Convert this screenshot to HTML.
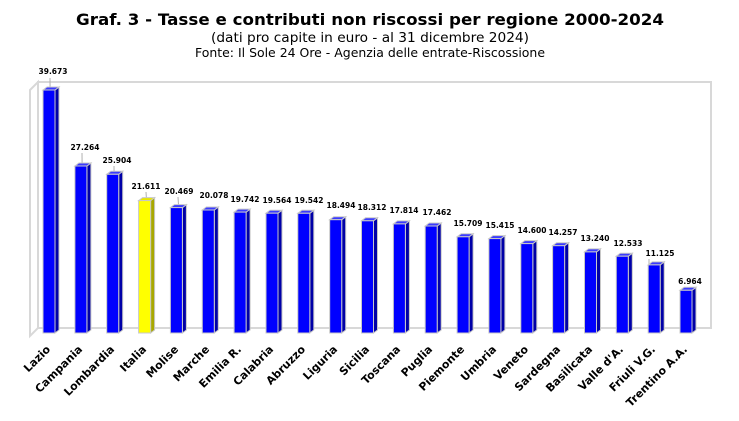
<!DOCTYPE html>
<html><head><meta charset="utf-8"><style>
body{margin:0;background:#fff;width:739px;height:421px;overflow:hidden}
svg{display:block;font-family:"DejaVu Sans","Liberation Sans",sans-serif}
.v{font-size:7.5px;font-weight:bold;text-anchor:middle;fill:#000}
.l{font-size:11px;font-weight:bold;text-anchor:end;fill:#000}
.f{fill:#0000ff;stroke:#c8c8c8;stroke-width:1}
.s{fill:#0000a8;stroke:#c8c8c8;stroke-width:1}
.t{fill:#3a3aff;stroke:#c8c8c8;stroke-width:1}
</style></head><body>
<svg width="739" height="421" viewBox="0 0 739 421">
<text x="370" y="25" text-anchor="middle" font-size="16" font-weight="bold" textLength="588" lengthAdjust="spacingAndGlyphs">Graf. 3 - Tasse e  contributi non riscossi per regione 2000-2024</text>
<text x="370" y="42" text-anchor="middle" font-size="13.5" textLength="318" lengthAdjust="spacingAndGlyphs">(dati pro capite in euro - al 31 dicembre 2024)</text>
<text x="370" y="57" text-anchor="middle" font-size="12" textLength="350" lengthAdjust="spacingAndGlyphs">Fonte: Il Sole 24 Ore - Agenzia delle entrate-Riscossione</text>
<polygon points="38,82 711,82 711,328 38,328" fill="none" stroke="#d8d8d8" stroke-width="2"/>
<polygon points="30,90 38,82 38,328 30,336" fill="none" stroke="#d8d8d8" stroke-width="2"/>
<g stroke="#b0b0b0" stroke-width="1">
<line x1="50" y1="78" x2="51" y2="200"/><line x1="82" y1="153" x2="83" y2="250"/><line x1="114" y1="166" x2="115" y2="255"/><line x1="146" y1="192" x2="151" y2="268"/><line x1="178" y1="197" x2="182" y2="260"/><line x1="649" y1="259" x2="649" y2="300"/>
</g>
<g>
<g><polygon class="s" points="55,90 59,87 59,330 55,333"/><polygon class="t" points="43,90 47,87 59,87 55,90"/><rect class="f" x="43" y="90" width="12" height="243"/><text class="v" x="53" y="74">39.673</text><text class="l" transform="translate(51,350) rotate(-45)">Lazio</text></g>
<g><polygon class="s" points="86.9,166 90.9,163 90.9,330 86.9,333"/><polygon class="t" points="74.9,166 78.9,163 90.9,163 86.9,166"/><rect class="f" x="74.9" y="166" width="12" height="167"/><text class="v" x="85" y="150">27.264</text><text class="l" transform="translate(83,350) rotate(-45)">Campania</text></g>
<g><polygon class="s" points="118.7,174.3 122.7,171.3 122.7,330 118.7,333"/><polygon class="t" points="106.7,174.3 110.7,171.3 122.7,171.3 118.7,174.3"/><rect class="f" x="106.7" y="174.3" width="12" height="158.7"/><text class="v" x="117" y="163">25.904</text><text class="l" transform="translate(115,350) rotate(-45)">Lombardia</text></g>
<g><polygon points="150.6,200.6 154.6,197.6 154.6,330 150.6,333" fill="#a8a800" stroke="#c8c8c8"/><polygon points="138.6,200.6 142.6,197.6 154.6,197.6 150.6,200.6" fill="#e8e800" stroke="#c8c8c8"/><rect x="138.6" y="200.6" width="12" height="132.4" fill="#ffff00" stroke="#c8c8c8"/><text class="v" x="146" y="189">21.611</text><text class="l" transform="translate(147,350) rotate(-45)">Italia</text></g>
<g><polygon class="s" points="182.4,207.6 186.4,204.6 186.4,330 182.4,333"/><polygon class="t" points="170.4,207.6 174.4,204.6 186.4,204.6 182.4,207.6"/><rect class="f" x="170.4" y="207.6" width="12" height="125.4"/><text class="v" x="179" y="194">20.469</text><text class="l" transform="translate(179,350) rotate(-45)">Molise</text></g>
<g><polygon class="s" points="214.3,210 218.3,207 218.3,330 214.3,333"/><polygon class="t" points="202.3,210 206.3,207 218.3,207 214.3,210"/><rect class="f" x="202.3" y="210" width="12" height="123"/><text class="v" x="214" y="198">20.078</text><text class="l" transform="translate(210,350) rotate(-45)">Marche</text></g>
<g><polygon class="s" points="246.1,212.1 250.1,209.1 250.1,330 246.1,333"/><polygon class="t" points="234.1,212.1 238.1,209.1 250.1,209.1 246.1,212.1"/><rect class="f" x="234.1" y="212.1" width="12" height="120.9"/><text class="v" x="245" y="202">19.742</text><text class="l" transform="translate(242,350) rotate(-45)">Emilia R.</text></g>
<g><polygon class="s" points="278,213.2 282,210.2 282,330 278,333"/><polygon class="t" points="266,213.2 270,210.2 282,210.2 278,213.2"/><rect class="f" x="266" y="213.2" width="12" height="119.8"/><text class="v" x="277" y="203">19.564</text><text class="l" transform="translate(274,350) rotate(-45)">Calabria</text></g>
<g><polygon class="s" points="309.8,213.3 313.8,210.3 313.8,330 309.8,333"/><polygon class="t" points="297.8,213.3 301.8,210.3 313.8,210.3 309.8,213.3"/><rect class="f" x="297.8" y="213.3" width="12" height="119.7"/><text class="v" x="309" y="203">19.542</text><text class="l" transform="translate(306,350) rotate(-45)">Abruzzo</text></g>
<g><polygon class="s" points="341.7,219.7 345.7,216.7 345.7,330 341.7,333"/><polygon class="t" points="329.7,219.7 333.7,216.7 345.7,216.7 341.7,219.7"/><rect class="f" x="329.7" y="219.7" width="12" height="113.3"/><text class="v" x="341" y="208">18.494</text><text class="l" transform="translate(338,350) rotate(-45)">Liguria</text></g>
<g><polygon class="s" points="373.5,220.8 377.5,217.8 377.5,330 373.5,333"/><polygon class="t" points="361.5,220.8 365.5,217.8 377.5,217.8 373.5,220.8"/><rect class="f" x="361.5" y="220.8" width="12" height="112.2"/><text class="v" x="372" y="210">18.312</text><text class="l" transform="translate(370,350) rotate(-45)">Sicilia</text></g>
<g><polygon class="s" points="405.4,223.9 409.4,220.9 409.4,330 405.4,333"/><polygon class="t" points="393.4,223.9 397.4,220.9 409.4,220.9 405.4,223.9"/><rect class="f" x="393.4" y="223.9" width="12" height="109.1"/><text class="v" x="404" y="213">17.814</text><text class="l" transform="translate(401,350) rotate(-45)">Toscana</text></g>
<g><polygon class="s" points="437.2,226 441.2,223 441.2,330 437.2,333"/><polygon class="t" points="425.2,226 429.2,223 441.2,223 437.2,226"/><rect class="f" x="425.2" y="226" width="12" height="107"/><text class="v" x="437" y="215">17.462</text><text class="l" transform="translate(433,350) rotate(-45)">Puglia</text></g>
<g><polygon class="s" points="469.1,236.8 473.1,233.8 473.1,330 469.1,333"/><polygon class="t" points="457.1,236.8 461.1,233.8 473.1,233.8 469.1,236.8"/><rect class="f" x="457.1" y="236.8" width="12" height="96.2"/><text class="v" x="468" y="226">15.709</text><text class="l" transform="translate(465,350) rotate(-45)">Piemonte</text></g>
<g><polygon class="s" points="500.9,238.6 504.9,235.6 504.9,330 500.9,333"/><polygon class="t" points="488.9,238.6 492.9,235.6 504.9,235.6 500.9,238.6"/><rect class="f" x="488.9" y="238.6" width="12" height="94.4"/><text class="v" x="500" y="228">15.415</text><text class="l" transform="translate(497,350) rotate(-45)">Umbria</text></g>
<g><polygon class="s" points="532.8,243.6 536.8,240.6 536.8,330 532.8,333"/><polygon class="t" points="520.8,243.6 524.8,240.6 536.8,240.6 532.8,243.6"/><rect class="f" x="520.8" y="243.6" width="12" height="89.4"/><text class="v" x="532" y="233">14.600</text><text class="l" transform="translate(529,350) rotate(-45)">Veneto</text></g>
<g><polygon class="s" points="564.6,245.7 568.6,242.7 568.6,330 564.6,333"/><polygon class="t" points="552.6,245.7 556.6,242.7 568.6,242.7 564.6,245.7"/><rect class="f" x="552.6" y="245.7" width="12" height="87.3"/><text class="v" x="563" y="235">14.257</text><text class="l" transform="translate(561,350) rotate(-45)">Sardegna</text></g>
<g><polygon class="s" points="596.5,251.9 600.5,248.9 600.5,330 596.5,333"/><polygon class="t" points="584.5,251.9 588.5,248.9 600.5,248.9 596.5,251.9"/><rect class="f" x="584.5" y="251.9" width="12" height="81.1"/><text class="v" x="595" y="241">13.240</text><text class="l" transform="translate(593,350) rotate(-45)">Basilicata</text></g>
<g><polygon class="s" points="628.3,256.2 632.3,253.2 632.3,330 628.3,333"/><polygon class="t" points="616.3,256.2 620.3,253.2 632.3,253.2 628.3,256.2"/><rect class="f" x="616.3" y="256.2" width="12" height="76.8"/><text class="v" x="628" y="246">12.533</text><text class="l" transform="translate(624,350) rotate(-45)">Valle d'A.</text></g>
<g><polygon class="s" points="660.2,264.9 664.2,261.9 664.2,330 660.2,333"/><polygon class="t" points="648.2,264.9 652.2,261.9 664.2,261.9 660.2,264.9"/><rect class="f" x="648.2" y="264.9" width="12" height="68.1"/><text class="v" x="660" y="256">11.125</text><text class="l" transform="translate(656,350) rotate(-45)">Friuli V.G.</text></g>
<g><polygon class="s" points="692,290.3 696,287.3 696,330 692,333"/><polygon class="t" points="680,290.3 684,287.3 696,287.3 692,290.3"/><rect class="f" x="680" y="290.3" width="12" height="42.7"/><text class="v" x="690" y="284">6.964</text><text class="l" transform="translate(688,350) rotate(-45)">Trentino A.A.</text></g>
</g>
</svg>
</body></html>
